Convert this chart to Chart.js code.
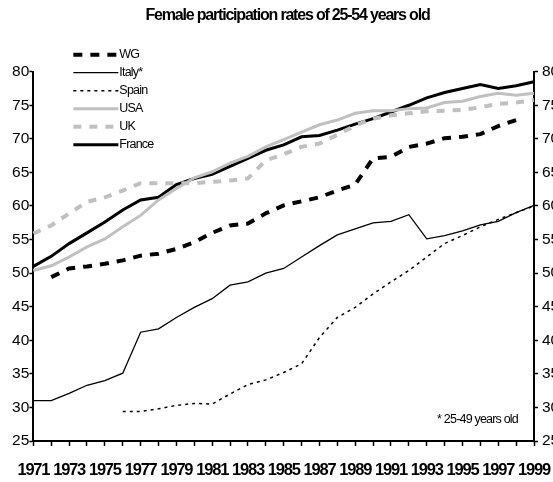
<!DOCTYPE html>
<html>
<head>
<meta charset="utf-8">
<script src="https://cdn.jsdelivr.net/npm/chart.js@4.4.1/dist/chart.umd.min.js"></script>
<style>
  html, body { margin: 0; padding: 0; background: #fff; overflow: hidden; }
  #wrap { width: 575px; height: 482px; }
</style>
</head>
<body>
<div id="wrap"><canvas id="participationChart" width="575" height="482"></canvas></div>
<script>
const years = ["1971", "1972", "1973", "1974", "1975", "1976", "1977", "1978", "1979", "1980",
    "1981", "1982", "1983", "1984", "1985", "1986", "1987", "1988", "1989", "1990",
    "1991", "1992", "1993", "1994", "1995", "1996", "1997", "1998", "1999"];

const wg = [null, 49.4, 50.7, 51.0, 51.4, 51.9, 52.6, 52.9, 53.6, 54.6, 56.0, 57.1, 57.4, 58.9, 60.1,
    60.7, 61.3, 62.3, 63.2, 67.1, 67.3, 68.8, 69.3, 70.1, 70.3, 70.7, 71.9, 72.8, null];
const italy = [31.0, 31.0, 32.1, 33.3, 34.0, 35.1, 41.2, 41.7, 43.4, 44.9, 46.2, 48.2, 48.7, 50.0, 50.7,
    52.4, 54.1, 55.7, 56.6, 57.5, 57.7, 58.7, 55.1, 55.6, 56.3, 57.2, 57.7, 59.0, 60.1];
const spain = [null, null, null, null, null, 29.4, 29.4, 29.8, 30.3, 30.6, 30.5, 32.0, 33.4, 34.1, 35.2,
    36.5, 40.4, 43.4, 44.9, 46.9, 48.7, 50.4, 52.4, 54.4, 55.6, 56.9, 58.0, 59.0, 60.0];
const usa = [50.4, 51.1, 52.4, 53.9, 55.1, 56.9, 58.6, 60.9, 62.6, 64.2, 65.1, 66.4, 67.4, 68.8, 69.9,
    71.0, 72.1, 72.8, 73.8, 74.2, 74.2, 74.5, 74.6, 75.4, 75.6, 76.3, 76.8, 76.5, 76.8];
const uk = [55.9, 57.1, 58.9, 60.6, 61.3, 62.3, 63.4, 63.4, 63.4, 63.4, 63.6, 63.8, 64.1, 66.8, 67.7,
    68.8, 69.3, 70.6, 72.0, 73.0, 73.5, 73.8, 74.1, 74.2, 74.3, 74.7, 75.2, 75.4, 75.8];
const france = [51.0, 52.5, 54.4, 56.0, 57.6, 59.4, 60.9, 61.3, 63.2, 64.1, 64.7, 65.9, 67.1, 68.3, 69.1,
    70.3, 70.5, 71.3, 72.2, 73.0, 74.0, 75.0, 76.1, 76.9, 77.5, 78.1, 77.5, 77.9, 78.5];

const titleText = "Female participation rates of 25-54 years old";
const footnote = "* 25-49 years old";

const sans = "'Liberation Sans', Arial, sans-serif";
const grey = '#c0c0c0';

// the original uses a condensed face: squeeze title and year labels,
// then reset before the value labels (drawn after the lines, z: 1)
const squeeze = {
    id: 'squeeze',
    beforeDraw(chart) {
        chart.ctx.letterSpacing = '-1.2px';
    },
    afterDatasetsDraw(chart) {
        chart.ctx.letterSpacing = '0px';
    }
};

// legend drawn inside the plot, top left, plus the footnote
const insideLegend = {
    id: 'insideLegend',
    afterDraw(chart) {
        const ctx = chart.ctx;
        const area = chart.chartArea;
        ctx.save();
        ctx.font = `12.5px ${sans}`;
        ctx.letterSpacing = '-0.8px';
        ctx.textBaseline = 'middle';
        chart.data.datasets.forEach((ds, i) => {
            const y = area.top - 17 + i * 18;
            ctx.beginPath();
            ctx.setLineDash(ds.borderDash || []);
            ctx.lineWidth = ds.borderWidth;
            ctx.strokeStyle = ds.borderColor;
            ctx.moveTo(area.left + 40, y);
            ctx.lineTo(area.left + 85, y);
            ctx.stroke();
            ctx.setLineDash([]);
            ctx.fillStyle = '#000';
            ctx.fillText(ds.label, area.left + 86, y);
        });
        ctx.textAlign = 'right';
        ctx.fillText(footnote, area.right - 16, area.bottom - 21);
        ctx.restore();
    }
};

const yAxis = (position, width) => ({
    position: position,
    min: 25,
    max: 80,
    grid: { drawOnChartArea: false, tickLength: 4, tickColor: '#000', tickWidth: 1.5 },
    border: { display: true, color: '#000', width: 2 },
    ticks: {
        stepSize: 5,
        z: 1,
        padding: position === 'left' ? 0 : 4,
        color: '#000',
        font: { family: sans, size: 15.5 }
    },
    afterFit: scale => { scale.width = width; }
});

const ctx = document.getElementById('participationChart').getContext('2d');

new Chart(ctx, {
    type: 'line',
    data: {
        labels: years,
        datasets: [
            { label: 'WG', data: wg, borderColor: '#000', borderWidth: 4, borderDash: [9, 8] },
            { label: 'Italy*', data: italy, borderColor: '#000', borderWidth: 1.3 },
            { label: 'Spain', data: spain, borderColor: '#000', borderWidth: 1.5, borderDash: [3, 4] },
            { label: 'USA', data: usa, borderColor: grey, borderWidth: 3 },
            { label: 'UK', data: uk, borderColor: grey, borderWidth: 4, borderDash: [8, 8] },
            { label: 'France', data: france, borderColor: '#000', borderWidth: 3 }
        ]
    },
    options: {
        responsive: false,
        animation: false,
        elements: {
            point: { radius: 0, hoverRadius: 0 },
            line: { tension: 0, fill: false, borderCapStyle: 'butt' }
        },
        layout: { padding: { top: 0, left: 0, right: 0, bottom: 0 } },
        plugins: {
            legend: { display: false },
            tooltip: { enabled: false },
            title: {
                display: true,
                text: titleText,
                color: '#000',
                font: { family: sans, size: 16, weight: 'bold' },
                padding: { top: 6, bottom: 46.5 }
            }
        },
        scales: {
            x: {
                offset: false,
                grid: { drawOnChartArea: false, tickLength: 5, tickColor: '#000', tickWidth: 1.5 },
                border: { display: true, color: '#000', width: 2 },
                ticks: {
                    autoSkip: false,
                    maxRotation: 0,
                    padding: 15,
                    color: '#000',
                    font: { family: sans, size: 16.5, weight: 'bold' },
                    callback: function (value, index) {
                        return index % 2 === 0 ? this.getLabelForValue(value) : '';
                    }
                },
                afterFit: scale => { scale.height = 41; }
            },
            y: yAxis('left', 32),
            y2: yAxis('right', 41)
        }
    },
    plugins: [squeeze, insideLegend]
});
</script>
</body>
</html>
